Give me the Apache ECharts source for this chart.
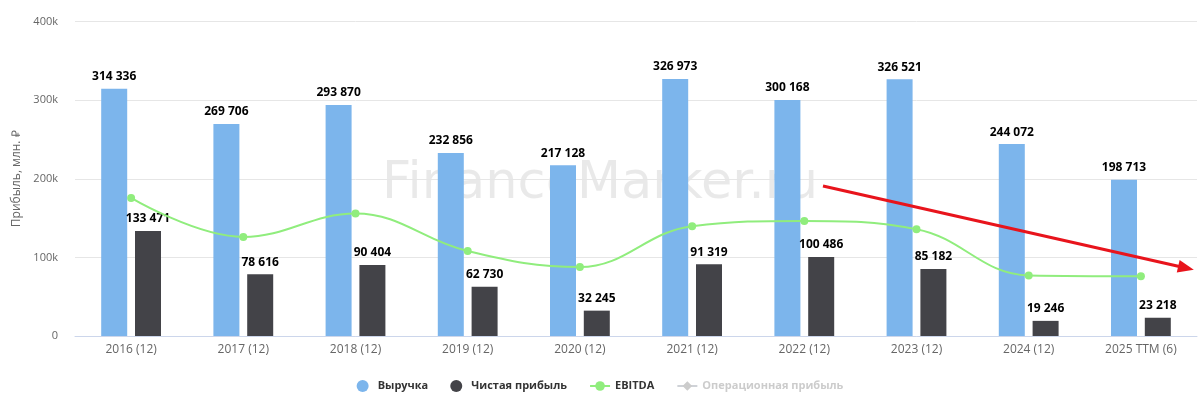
<!DOCTYPE html>
<html>
<head>
<meta charset="utf-8">
<script src="https://cdn.jsdelivr.net/npm/echarts@6/dist/echarts.min.js"></script>
<style>
  html, body { margin: 0; padding: 0; background: #fff; }
  #chart { width: 1200px; height: 399px; }
</style>
</head>
<body>
<div id="chart"></div>
<script>
// данные
var years = ['2016 (12)', '2017 (12)', '2018 (12)', '2019 (12)', '2020 (12)', '2021 (12)', '2022 (12)', '2023 (12)', '2024 (12)', '2025 TTM (6)'];
var revenue = [314336, 269706, 293870, 232856, 217128, 326973, 300168, 326521, 244072, 198713];
var netProfit = [133471, 78616, 90404, 62730, 32245, 91319, 100486, 85182, 19246, 23218];
var ebitda = [175600, 126000, 155800, 108000, 87600, 139700, 146400, 135900, 77000, 76000];
var opProfit = [];

var FONT = '"Open Sans", sans-serif';

function fmt(v) {
  return String(v).replace(/\B(?=(\d{3})+(?!\d))/g, ' ');
}

var barLabel = {
  show: true,
  position: 'top',
  distance: 6,
  color: '#000',
  fontFamily: FONT,
  fontWeight: 'bold',
  fontSize: 12,
  formatter: function (p) { return fmt(p.value); }
};

var chart = echarts.init(document.getElementById('chart'));

chart.setOption({
  animation: false,
  textStyle: { fontFamily: FONT },
  grid: { left: 75, right: 3, top: 21.5, bottom: 63 },
  legend: {
    bottom: 2,
    left: 'center',
    itemWidth: 20,
    itemHeight: 12,
    itemGap: 22,
    textStyle: { color: '#333', fontWeight: 'bold', fontSize: 11, fontFamily: FONT },
    inactiveColor: '#ccc',
    data: [
      { name: 'Выручка', icon: 'circle' },
      { name: 'Чистая прибыль', icon: 'circle' },
      'EBITDA',
      'Операционная прибыль'
    ],
    selected: { 'Операционная прибыль': false }
  },
  graphic: [{
    type: 'text',
    left: 'center',
    top: 159,
    silent: true,
    style: {
      text: 'FinanceMarker.ru',
      fontFamily: '"DejaVu Sans", sans-serif',
      fontSize: 51,
      fill: 'rgba(0,0,0,0.085)'
    }
  }],
  xAxis: {
    type: 'category',
    data: years,
    axisLine: { lineStyle: { color: '#ccd6eb' } },
    axisTick: { show: false },
    axisLabel: { color: '#666', fontSize: 12, margin: 8 }
  },
  yAxis: {
    type: 'value',
    min: 0,
    max: 400000,
    interval: 100000,
    name: 'Прибыль, млн. ₽',
    nameLocation: 'middle',
    nameGap: 52,
    nameTextStyle: { color: '#666', fontSize: 12 },
    splitLine: { lineStyle: { color: '#e6e6e6' } },
    axisLabel: {
      color: '#666',
      fontSize: 11,
      margin: 17,
      formatter: function (v) { return v === 0 ? '0' : (v / 1000) + 'k'; }
    }
  },
  series: [
    {
      name: 'Выручка',
      type: 'bar',
      data: revenue,
      barWidth: 26,
      barGap: '30%',
      itemStyle: { color: '#7cb5ec' },
      label: barLabel
    },
    {
      name: 'Чистая прибыль',
      type: 'bar',
      data: netProfit,
      barWidth: 26,
      itemStyle: { color: '#434348' },
      label: barLabel
    },
    {
      name: 'EBITDA',
      type: 'line',
      data: ebitda,
      smooth: 0.4,
      symbol: 'circle',
      symbolSize: 8,
      itemStyle: { color: '#90ed7d' },
      lineStyle: { color: '#90ed7d', width: 2 },
      z: 5,
      markLine: {
        silent: true,
        symbol: ['none', 'triangle'],
        symbolSize: [13, 16],
        label: { show: false },
        lineStyle: { color: '#e8141c', width: 3, type: 'solid' },
        data: [[{ x: 823, y: 186 }, { x: 1186, y: 268 }]]
      }
    },
    {
      name: 'Операционная прибыль',
      type: 'line',
      data: opProfit,
      symbol: 'diamond',
      symbolSize: 7,
      itemStyle: { color: '#f7a35c' }
    }
  ]
});
</script>
</body>
</html>
